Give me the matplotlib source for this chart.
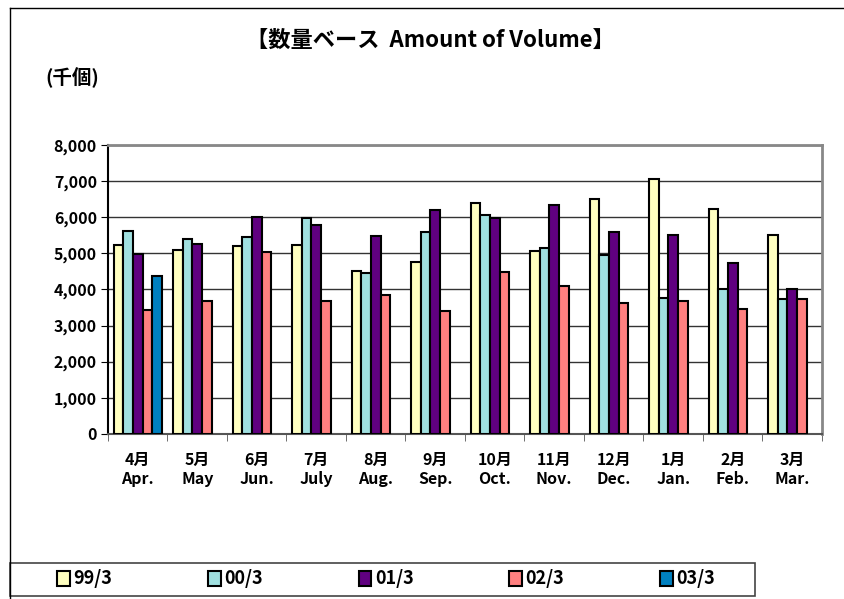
import numpy as np
import matplotlib
matplotlib.use("Agg")
import matplotlib.pyplot as plt
from matplotlib.patches import Rectangle
from matplotlib.lines import Line2D
from matplotlib.ticker import FuncFormatter

plt.rcParams['font.family'] = ['Noto Sans CJK JP', 'DejaVu Sans']
plt.rcParams['font.weight'] = 'bold'

# --- datos ---
meses_jp = ['4月', '5月', '6月', '7月', '8月', '9月', '10月', '11月', '12月', '1月', '2月', '3月']
meses_en = ['Apr.', 'May', 'Jun.', 'July', 'Aug.', 'Sep.', 'Oct.', 'Nov.', 'Dec.', 'Jan.', 'Feb.', 'Mar.']
series = ['99/3', '00/3', '01/3', '02/3', '03/3']
v99 = [5240, 5090, 5210, 5220, 4520, 4770, 6400, 5060, 6500, 7050, 6230, 5500]
v00 = [5630, 5410, 5450, 5990, 4460, 5600, 6060, 5150, 4960, 3760, 4000, 3730]
v01 = [4970, 5270, 6000, 5790, 5490, 6200, 5970, 6340, 5600, 5520, 4730, 4000]
v02 = [3430, 3680, 5040, 3690, 3860, 3400, 4480, 4090, 3630, 3670, 3460, 3730]
v03 = [4380, np.nan, np.nan, np.nan, np.nan, np.nan, np.nan, np.nan, np.nan, np.nan, np.nan, np.nan]
colores = ['#FFFFC0', '#A0E0E0', '#600080', '#FF8080', '#0080C0']

fig = plt.figure(figsize=(8.45, 5.99), dpi=100)
ax = fig.add_axes([108 / 845, 1 - 434 / 599, (822 - 108) / 845, (434 - 145) / 599])

x = np.arange(len(meses_jp))
ancho = 0.16
for i, (vals, col, nom) in enumerate(zip([v99, v00, v01, v02, v03], colores, series)):
    ax.bar(x - 0.4 + ancho * (i + 0.5), vals, width=ancho, color=col,
           edgecolor='black', linewidth=1.5, label=nom, zorder=3)

ax.set_xlim(-0.5, len(meses_jp) - 0.5)
ax.set_ylim(0, 8000)
ax.set_yticks(range(0, 8001, 1000))
ax.yaxis.set_major_formatter(FuncFormatter(lambda v, p: f"{int(v):,}"))
ax.grid(axis='y', color='#333333', linewidth=1, zorder=0)
ax.set_xticks(x)
ax.set_xticklabels([f"{a}\n{b}" for a, b in zip(meses_jp, meses_en)], fontsize=11.5,
                   linespacing=1.2)
ax.set_xticks(np.arange(-0.5, len(meses_jp)), minor=True)
ax.tick_params(axis='x', which='major', length=0, pad=13)
ax.tick_params(axis='x', which='minor', length=5, direction='out', color='#555555')
ax.tick_params(axis='y', length=5, direction='out', labelsize=11.5, pad=3)
for s in ['top', 'right']:
    ax.spines[s].set_color('#888888')
    ax.spines[s].set_linewidth(2)
ax.spines['left'].set_linewidth(1.5)
ax.spines['bottom'].set_linewidth(1.5)
ax.spines['bottom'].set_color('#555555')

fig.text(430 / 845, 1 - 40 / 599, '【数量ベース  Amount of Volume】', ha='center', va='center',
         fontsize=16, fontweight='bold')
fig.text(45 / 845, 1 - 78 / 599, '(千個)', ha='left', va='center', fontsize=14, fontweight='bold')

# marco exterior
fig.add_artist(Line2D([10 / 845, 10 / 845], [0, 1 - 8 / 599], transform=fig.transFigure,
                      color='black', linewidth=1))
fig.add_artist(Line2D([10 / 845, 1], [1 - 8 / 599, 1 - 8 / 599], transform=fig.transFigure,
                      color='black', linewidth=1))
fig.add_artist(Rectangle((10 / 845, 1 - 596 / 599), (755 - 10) / 845, (596 - 563) / 599,
                         transform=fig.transFigure, fill=False, edgecolor='#444444', linewidth=1.2))

handles, labels = ax.get_legend_handles_labels()
fig.legend(handles, labels, ncol=5, loc='center', bbox_to_anchor=(386 / 845, 1 - 579 / 599),
           frameon=False, fontsize=13, handlelength=0.7, handleheight=0.9, handletextpad=0.2,
           columnspacing=5.3)

fig.savefig('out.png', dpi=100)
